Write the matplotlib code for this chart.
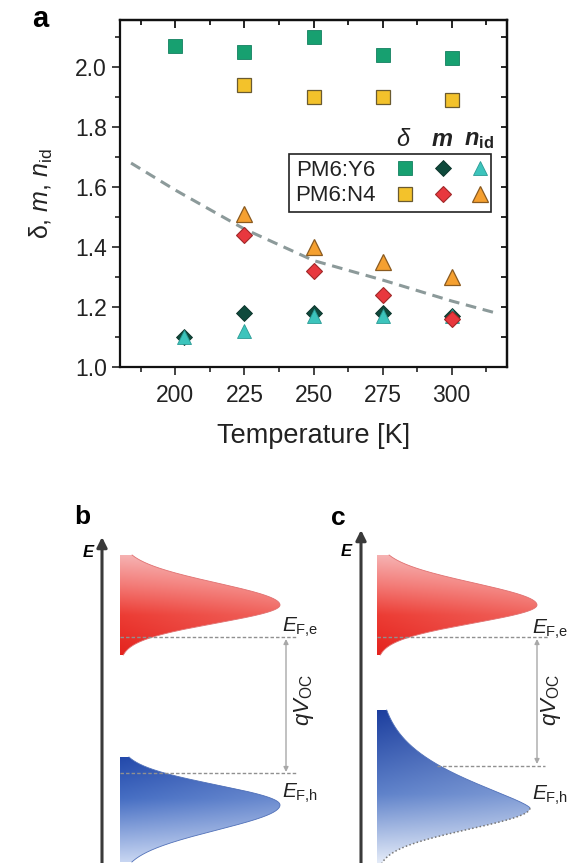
import numpy as np
import matplotlib.pyplot as plt
from matplotlib.patches import Polygon
from matplotlib.ticker import MultipleLocator

plt.rcParams['font.family'] = 'Liberation Sans'
plt.rcParams['mathtext.fontset'] = 'custom'
plt.rcParams['mathtext.rm'] = 'Liberation Sans'
plt.rcParams['mathtext.it'] = 'Liberation Sans:italic'
plt.rcParams['mathtext.bf'] = 'Liberation Sans:bold'
plt.rcParams['mathtext.bfit'] = 'Liberation Sans:bold:italic'

## data (panel a)
T_Y6_delta = [200, 225, 250, 275, 300]
delta_Y6 = [2.07, 2.05, 2.10, 2.04, 2.03]
T_Y6 = [203, 225, 250, 275, 300]
m_Y6 = [1.10, 1.18, 1.18, 1.18, 1.17]
nid_Y6 = [1.10, 1.12, 1.17, 1.17, 1.17]
T_N4 = [225, 250, 275, 300]
delta_N4 = [1.94, 1.90, 1.90, 1.89]
m_N4 = [1.44, 1.32, 1.24, 1.16]
nid_N4 = [1.51, 1.40, 1.35, 1.30]
T_guide = [184, 200, 225, 250, 275, 300, 316]
guide = [1.68, 1.59, 1.46, 1.355, 1.29, 1.22, 1.18]

xticks = [200, 225, 250, 275, 300]
yticks = [1.0, 1.2, 1.4, 1.6, 1.8, 2.0]

GreenCol = '#17a070'
YellowCol = '#f3c22b'
DarkCol = '#0f4a3c'
CyanCol = '#3cc4bc'
RedCol = '#e8383e'
OrangeCol = '#f5a030'
TxtCol = '#222222'

fig = plt.figure(figsize=(5.85, 8.63), dpi=100)
ax = fig.add_axes([120/585, 1-367/863, 387/585, 347/863])

sq_Y6 = dict(marker='s', ms=9.5, color=GreenCol, mec='#138060', mew=0.6, ls='none')
sq_N4 = dict(marker='s', ms=9.5, color=YellowCol, mec='#6a5a30', mew=0.9, ls='none')
di_Y6 = dict(marker='D', ms=8.5, color=DarkCol, mec='#0a3028', mew=0.6, ls='none')
tr_Y6 = dict(marker='^', ms=10, color=CyanCol, mec='#2a9a94', mew=0.6, ls='none')
di_N4 = dict(marker='D', ms=8.5, color=RedCol, mec='#a02828', mew=0.8, ls='none')
tr_N4 = dict(marker='^', ms=11, color=OrangeCol, mec='#8a5a20', mew=0.9, ls='none')

ax.plot(T_guide, guide, color='#8c9a9a', lw=2.2, ls=(0, (3.5, 2.2)), zorder=1)
ax.plot(T_Y6_delta, delta_Y6, zorder=3, **sq_Y6)
ax.plot(T_N4, delta_N4, zorder=3, **sq_N4)
ax.plot(T_Y6, m_Y6, zorder=3, **di_Y6)
ax.plot(T_Y6, nid_Y6, zorder=4, **tr_Y6)
ax.plot(T_N4, nid_N4, zorder=5, **tr_N4)
ax.plot(T_N4, m_N4, zorder=5, **di_N4)

ax.set_xlim(180, 320)
ax.set_ylim(1.0, 2.157)
ax.set_xticks(xticks)
ax.set_yticks(yticks)
ax.set_yticklabels([f'{v:.1f}' for v in yticks])
ax.xaxis.set_minor_locator(MultipleLocator(12.5))
ax.yaxis.set_minor_locator(MultipleLocator(0.1))
ax.tick_params(which='both', direction='out', width=1.2, labelsize=16.5, colors=TxtCol)
ax.tick_params(which='major', length=6)
ax.tick_params(which='minor', length=3.5)
ax.tick_params(axis='x', pad=6)
for s in ax.spines.values():
    s.set_linewidth(1.6)
    s.set_color('#111111')

topx = ax.secondary_xaxis('top')
topx.set_xticks(xticks)
topx.xaxis.set_minor_locator(MultipleLocator(12.5))
topx.tick_params(which='both', direction='in', labeltop=False, width=1.2)
topx.tick_params(which='major', length=6)
topx.tick_params(which='minor', length=3.5)
topx.spines['top'].set_linewidth(1.6)
righty = ax.secondary_yaxis('right')
righty.set_yticks(yticks)
righty.yaxis.set_minor_locator(MultipleLocator(0.1))
righty.tick_params(which='both', direction='in', labelright=False, width=1.2, length=4.5)
righty.spines['right'].set_linewidth(1.6)

ax.set_xlabel('Temperature [K]', fontsize=19.5, labelpad=12, color=TxtCol)
ax.set_ylabel(r'δ, $m$, $n_{\mathrm{id}}$', fontsize=18, labelpad=14, color=TxtCol)

handles = [ax.plot([], [], **sq_Y6)[0], ax.plot([], [], **sq_N4)[0],
           ax.plot([], [], **di_Y6)[0], ax.plot([], [], **di_N4)[0],
           ax.plot([], [], **tr_Y6)[0], ax.plot([], [], **tr_N4)[0]]
labels = ['PM6:Y6', 'PM6:N4', '', '', '', '']
leg = ax.legend(handles, labels, ncol=3, markerfirst=False, loc='upper left',
                bbox_to_anchor=(0.437, 0.613), fontsize=16, handlelength=0.5,
                handletextpad=1.1, columnspacing=0.08, labelspacing=0.2,
                borderpad=0.25, borderaxespad=0, fancybox=False, framealpha=1,
                edgecolor=TxtCol)
leg.get_frame().set_linewidth(1.2)
for txt in leg.get_texts():
    txt.set_color(TxtCol)
ax.text(0.731, 0.655, 'δ', transform=ax.transAxes, fontsize=17, style='italic',
        ha='center', va='center', color=TxtCol)
ax.text(0.832, 0.655, r'$\mathbfit{m}$', transform=ax.transAxes, fontsize=17,
        ha='center', va='center', color=TxtCol)
ax.text(0.928, 0.655, r'$\mathbfit{n}_{\mathbf{id}}$', transform=ax.transAxes,
        fontsize=17, ha='center', va='center', color=TxtCol)

fig.text(40/585, 1-19/863, 'a', fontsize=21, fontweight='bold', ha='center', va='center')

## panels b and c: schematic density of states
axs = fig.add_axes([0, 0, 1, 1])
axs.set_xlim(0, 585)
axs.set_ylim(863, 0)
axs.axis('off')

red_stops = [(0, 246, 178, 178), (0.3, 243, 122, 118), (0.6, 236, 60, 52), (1, 228, 35, 30)]
blue_b_stops = [(0, 34, 72, 170), (0.4, 70, 110, 195), (1, 200, 214, 242)]
blue_c_stops = [(0, 28, 62, 158), (0.55, 95, 130, 202), (1, 228, 235, 248)]


def gauss(sig):
    return lambda d: np.exp(-d**2/(2*sig**2))


def tail(sig, p):
    return lambda d: np.exp(-(d/sig)**p)


def dos(x0, W, yp, ytop, ybot, up, low, stops, edge, dotted=False):
    ys = np.linspace(ytop, ybot, 400)
    g = np.where(ys < yp, up(yp - ys), low(ys - yp))
    xs = x0 + W*g
    verts = np.column_stack([np.r_[x0, xs, x0], np.r_[ytop, ys, ybot]])
    poly = Polygon(verts, closed=True, fc='none', ec='none')
    axs.add_patch(poly)
    st = np.array(stops, dtype=float)
    t = np.linspace(0, 1, 200)
    u = np.linspace(0, 1, 100)[None, :, None]
    rgb = np.stack([np.interp(t, st[:, 0], st[:, k]) for k in (1, 2, 3)], axis=-1)/255
    img = rgb[:, None, :]*(1 - 0.2*u) + 0.2*u
    im = axs.imshow(img, extent=(x0, x0 + W + 2, ybot, ytop), origin='upper',
                    aspect='auto', zorder=1, interpolation='bilinear')
    im.set_clip_path(poly)
    if dotted:
        axs.plot(xs[ys < yp], ys[ys < yp], color=edge, lw=0.6, zorder=2)
        axs.plot(xs[ys >= yp], ys[ys >= yp], color='#777777', lw=1.1, ls=(0, (1, 1.5)), zorder=2)
    else:
        axs.plot(xs, ys, color=edge, lw=0.6, zorder=2)


fermi = dict(color='#909090', lw=1.0, ls=(0, (2.5, 1.5)), zorder=3)
arrowE = dict(arrowstyle='-|>', color='#3a3a3a', lw=2.2, mutation_scale=15, shrinkA=0, shrinkB=0)
arrowV = dict(arrowstyle='<|-|>', color='#a8a8a8', lw=1.0, mutation_scale=7, shrinkA=0, shrinkB=0)
EFe = r'$E_{\mathrm{F{,}e}}$'
EFh = r'$E_{\mathrm{F{,}h}}$'
qV = r'$qV_{\mathrm{OC}}$'

# b
axs.annotate('', xy=(102, 537), xytext=(102, 866), arrowprops=arrowE)
axs.text(88, 552, 'E', fontsize=12, fontweight='bold', style='italic', ha='center', va='center')
fig.text(82/585, 1-517/863, 'b', fontsize=19, fontweight='bold', ha='center', va='center')
dos(120, 160, 605, 555, 655, gauss(22), gauss(18), red_stops, '#e07070')
dos(120, 160, 805, 757, 862, gauss(20), gauss(25), blue_b_stops, '#5070b8')
axs.plot([120, 297], [637, 637], **fermi)
axs.plot([120, 297], [773, 773], **fermi)
axs.annotate('', xy=(286, 639), xytext=(286, 772), arrowprops=arrowV)
axs.text(282, 632, EFe, fontsize=15, ha='left', va='baseline', color=TxtCol)
axs.text(282, 798, EFh, fontsize=15, ha='left', va='baseline', color=TxtCol)
axs.text(304, 700, qV, fontsize=16, rotation=90, ha='center', va='center', color=TxtCol)

# c
axs.annotate('', xy=(361, 530), xytext=(361, 866), arrowprops=arrowE)
axs.text(346, 551, 'E', fontsize=12, fontweight='bold', style='italic', ha='center', va='center')
fig.text(338/585, 1-518/863, 'c', fontsize=19, fontweight='bold', ha='center', va='center')
dos(377, 160, 605, 555, 655, gauss(22), gauss(18), red_stops, '#e07070')
dos(377, 153, 808, 710, 863, tail(46, 1.34), gauss(21), blue_c_stops, '#5070b8', dotted=True)
axs.plot([377, 548], [637, 637], **fermi)
axs.plot([437, 545], [766, 766], **fermi)
axs.annotate('', xy=(537, 639), xytext=(537, 764), arrowprops=arrowV)
axs.text(532, 634, EFe, fontsize=15, ha='left', va='baseline', color=TxtCol)
axs.text(532, 800, EFh, fontsize=15, ha='left', va='baseline', color=TxtCol)
axs.text(551, 700, qV, fontsize=16, rotation=90, ha='center', va='center', color=TxtCol)
axs.set_xlim(0, 585)
axs.set_ylim(863, 0)

plt.savefig('out.png', dpi=100)
